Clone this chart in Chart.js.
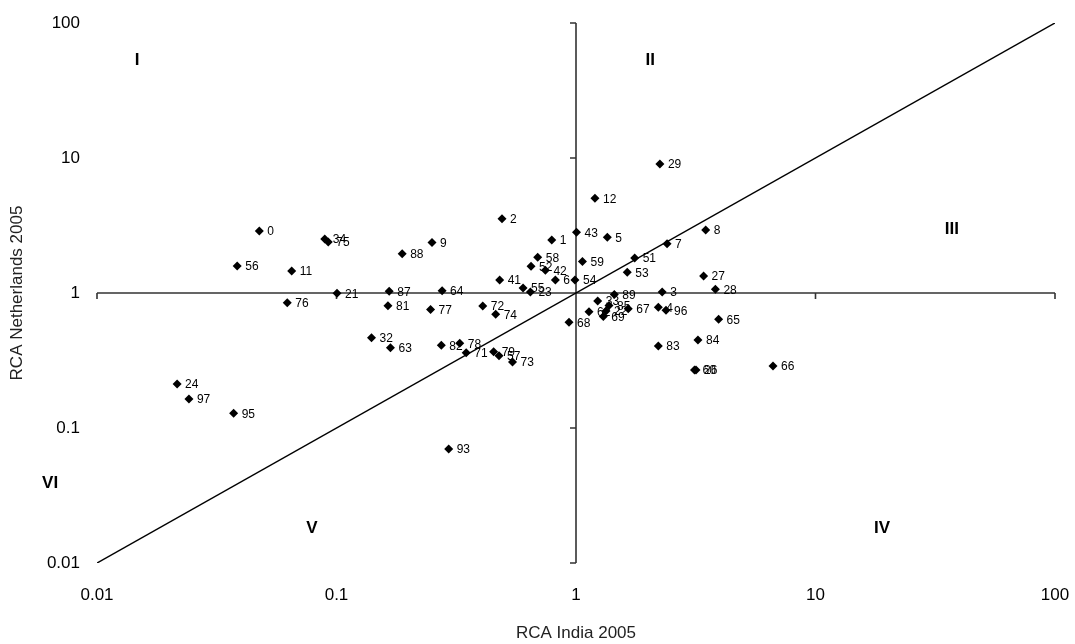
<!DOCTYPE html>
<html>
<head>
<meta charset="utf-8">
<script src="https://cdn.jsdelivr.net/npm/chart.js@4"></script>
<style>
  html, body { margin: 0; padding: 0; background: #fff; }
</style>
</head>
<body>
<canvas id="rcaChart" width="1075" height="644"></canvas>
<script>
// product group codes and RCA values
let codes = ['0', '34', '75', '9', '88', '56', '11', '21', '87', '64', '76', '81', '77', '32', '63', '82',
  '2', '43', '1', '58', '52', '42', '59', '41', '6', '54', '55', '23', '72', '74', '68', '78', '71', '79', '57', '73',
  '29', '12', '5', '8', '7', '51', '53', '27', '3', '28', '89', '33', '62', '85', '22', '69', '67', '4', '96', '65',
  '83', '84', '26', '60', '66', '24', '97', '95', '93']
let rcaIndia = [0.0476, 0.0893, 0.0924, 0.2505, 0.188, 0.0385, 0.065, 0.1005, 0.166, 0.276, 0.0623, 0.164, 0.247, 0.140, 0.168, 0.274,
  0.491, 1.005, 0.792, 0.692, 0.649, 0.745, 1.064, 0.480, 0.820, 0.990, 0.601, 0.645, 0.408, 0.462, 0.935, 0.327, 0.348, 0.453, 0.477, 0.543,
  2.24, 1.20, 1.351, 3.48, 2.40, 1.758, 1.637, 3.41, 2.29, 3.82, 1.445, 1.232, 1.133, 1.373, 1.334, 1.300, 1.653, 2.206, 2.376, 3.94,
  2.206, 3.23, 3.17, 3.125, 6.645, 0.0216, 0.0242, 0.0372, 0.294]
let rcaNetherlands = [2.88, 2.51, 2.39, 2.37, 1.955, 1.585, 1.455, 0.995, 1.03, 1.04, 0.847, 0.805, 0.755, 0.467, 0.393, 0.410,
  3.55, 2.82, 2.47, 1.838, 1.577, 1.473, 1.712, 1.248, 1.248, 1.248, 1.089, 1.017, 0.801, 0.695, 0.607, 0.424, 0.361, 0.367, 0.343, 0.308,
  9.03, 5.03, 2.587, 2.93, 2.318, 1.817, 1.426, 1.336, 1.017, 1.065, 0.975, 0.872, 0.727, 0.808, 0.736, 0.670, 0.765, 0.783, 0.744, 0.639,
  0.405, 0.449, 0.269, 0.269, 0.288, 0.212, 0.164, 0.1285, 0.0699]

let tickValues = [0.01, 0.1, 1, 10, 100]
let tickLabels = ['0.01', '0.1', '1', '10', '100']

// quadrant names and where they sit (data units)
let regionNames = ['I', 'II', 'III', 'IV', 'V', 'VI']
let regionX = [0.0147, 2.04, 37.1, 18.95, 0.079, 0.00637]
let regionY = [53.2, 53.2, 2.98, 0.0182, 0.0182, 0.0391]

let points = codes.map((c, i) => ({ x: rcaIndia[i], y: rcaNetherlands[i] }))

let textFont = '"Liberation Sans", Arial, sans-serif'

// axes crossing at 1 with tick marks on each decade
let crossAxes = {
  id: 'crossAxes',
  beforeDatasetsDraw(chart) {
    let c = chart.ctx
    let xs = chart.scales.x, ys = chart.scales.y
    let x1 = xs.getPixelForValue(1), y1 = ys.getPixelForValue(1)
    c.save()
    c.strokeStyle = '#333'
    c.lineWidth = 1.6
    c.beginPath()
    c.moveTo(xs.left, y1); c.lineTo(xs.right, y1)
    c.moveTo(x1, ys.top); c.lineTo(x1, ys.bottom)
    tickValues.forEach(v => {
      let px = xs.getPixelForValue(v), py = ys.getPixelForValue(v)
      c.moveTo(px, y1); c.lineTo(px, y1 + 6)
      c.moveTo(x1, py); c.lineTo(x1 - 6, py)
    })
    c.stroke()
    c.restore()
  }
}

// code labels next to each point, and the quadrant numerals
let textLabels = {
  id: 'textLabels',
  afterDatasetsDraw(chart) {
    let c = chart.ctx
    let meta = chart.getDatasetMeta(0)
    c.save()
    c.fillStyle = '#000'
    c.font = '12px ' + textFont
    c.textAlign = 'left'
    c.textBaseline = 'middle'
    meta.data.forEach((pt, i) => {
      c.fillText(codes[i], pt.x + 8, pt.y + 1)
    })
    c.font = 'bold 17px ' + textFont
    c.textAlign = 'center'
    regionNames.forEach((n, i) => {
      c.fillText(n, chart.scales.x.getPixelForValue(regionX[i]), chart.scales.y.getPixelForValue(regionY[i]))
    })
    c.restore()
  }
}

let ctx = document.getElementById('rcaChart').getContext('2d')

let chart = new Chart(ctx, {
  type: 'scatter',
  data: {
    datasets: [{
      data: points,
      pointStyle: 'rectRot',
      pointRadius: 4.5,
      backgroundColor: '#000',
      borderColor: '#000',
      borderWidth: 0
    }, {
      type: 'line',
      data: [{ x: 0.01, y: 0.01 }, { x: 100, y: 100 }],
      borderColor: '#000',
      borderWidth: 1.5,
      pointRadius: 0,
      fill: false
    }]
  },
  options: {
    responsive: false,
    animation: false,
    layout: { padding: 0 },
    plugins: { legend: { display: false }, tooltip: { enabled: false } },
    scales: {
      x: {
        type: 'logarithmic',
        min: 0.01,
        max: 100,
        afterBuildTicks: s => { s.ticks = tickValues.map(v => ({ value: v })) },
        afterFit: s => { s.height = 81; s.paddingLeft = 0; s.paddingRight = 20 },
        grid: { display: false, drawTicks: false },
        border: { display: false },
        ticks: {
          autoSkip: false, maxRotation: 0, padding: 22, color: '#000',
          font: { family: textFont, size: 17 },
          callback: (v, i) => tickLabels[i]
        },
        title: {
          display: true, text: 'RCA India 2005', color: '#222',
          font: { family: textFont, size: 17 },
          padding: { top: 0, bottom: 0 }
        }
      },
      y: {
        type: 'logarithmic',
        min: 0.01,
        max: 100,
        afterBuildTicks: s => { s.ticks = tickValues.map(v => ({ value: v })) },
        afterFit: s => { s.width = 97; s.paddingTop = 23; s.paddingBottom = 0 },
        grid: { display: false, drawTicks: false },
        border: { display: false },
        ticks: {
          autoSkip: false, padding: 17, color: '#000',
          font: { family: textFont, size: 17 },
          callback: (v, i) => tickLabels[i]
        },
        title: {
          display: true, text: 'RCA Netherlands 2005', color: '#222',
          font: { family: textFont, size: 17 },
          padding: { top: 7, bottom: 0 }
        }
      }
    }
  },
  plugins: [crossAxes, textLabels]
})
</script>
</body>
</html>
